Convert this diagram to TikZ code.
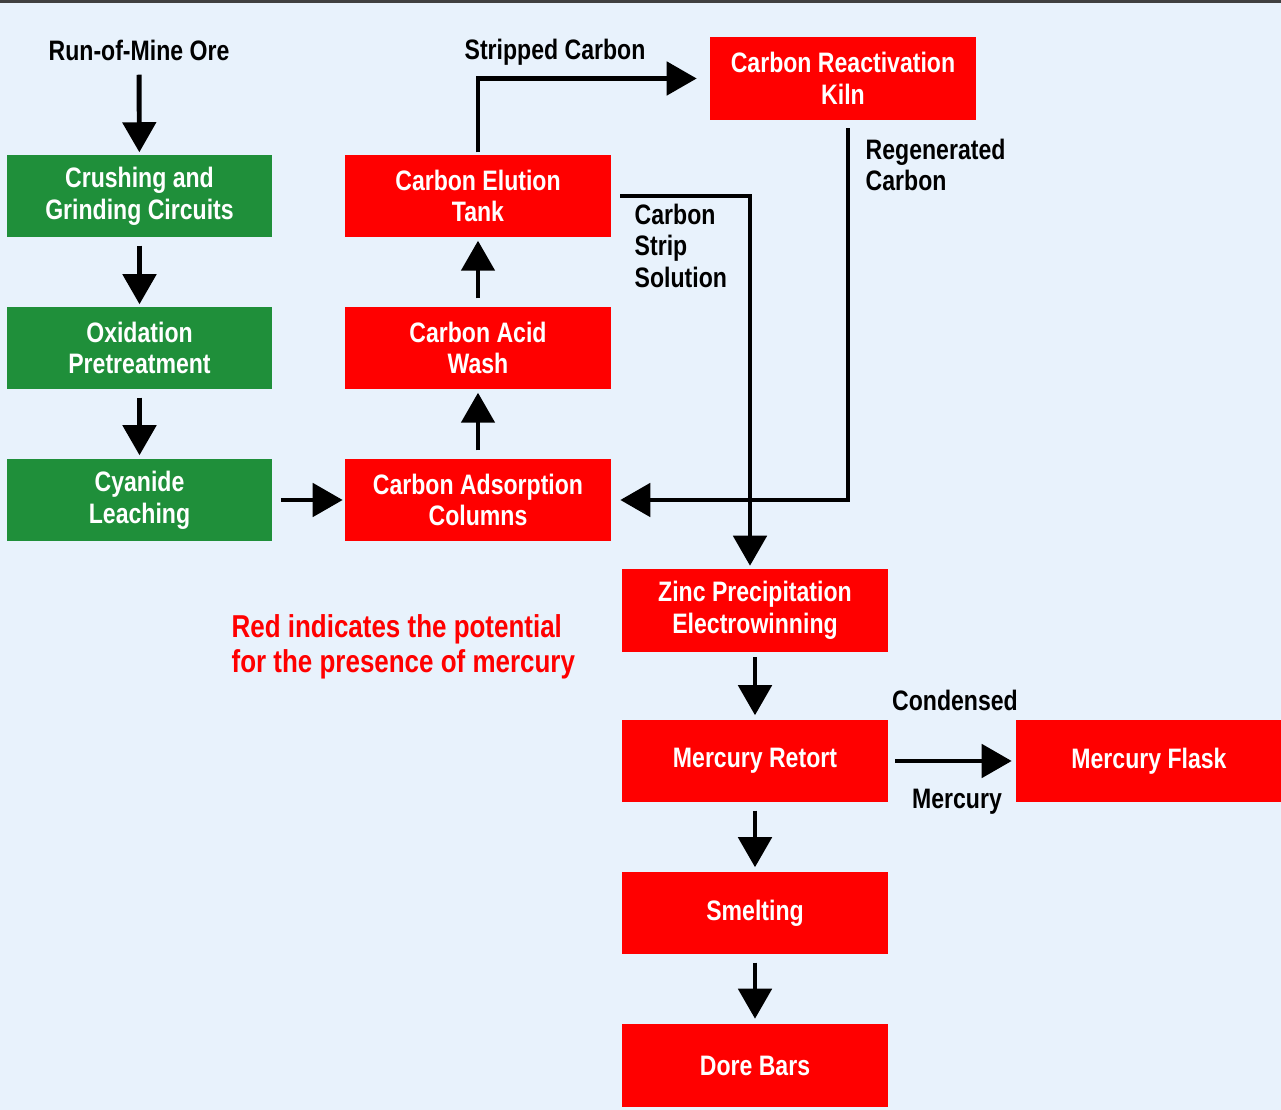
\documentclass[tikz,border=0pt]{standalone}
\usepackage{fontspec}
\setmainfont{Liberation Sans}[FakeStretch=0.82]
\usetikzlibrary{arrows.meta, positioning}
\definecolor{bgblue}{HTML}{E8F2FC}
\definecolor{boxgreen}{HTML}{1F8F3A}
\definecolor{boxred}{HTML}{FF0000}

\begin{document}
\begin{tikzpicture}[x=0.01cm, y=-0.01cm,
  font=\fontsize{8}{9}\selectfont\bfseries,
  greenbox/.style={fill=boxgreen, text=white, minimum width=2.65cm, minimum height=0.82cm, align=center, inner sep=0},
  redbox/.style={fill=boxred, text=white, minimum width=2.65cm, minimum height=0.82cm, align=center, inner sep=0},
  flow/.style={-{Triangle[length=0.3cm, width=0.33cm]}, line width=1.4pt},
  lbl/.style={align=left, inner sep=0}]
\useasboundingbox (0,0) rectangle (1281,1110);
\fill[bgblue] (0,0) rectangle (1281,1110);
\draw[black!75, line width=1.2pt] (0,1) -- (1281,1);
% nodes %
\node (rom) at (139,50) {Run-of-Mine Ore};
\node[greenbox] (crush) at (139.5,196) {Crushing and\\Grinding Circuits};
\node[greenbox] (oxid) at (139.5,348) {Oxidation\\Pretreatment};
\node[greenbox] (leach) at (139.5,500) {Cyanide\\Leaching};
\node[redbox] (elution) at (478,196) {Carbon Elution\\Tank};
\node[redbox] (acid) at (478,348) {Carbon Acid\\Wash};
\node[redbox] (adsorb) at (478,500) {Carbon Adsorption\\Columns};
\node[redbox] (kiln) at (843,78.5) {Carbon Reactivation\\Kiln};
\node[redbox] (zinc) at (755,610.5) {Zinc Precipitation\\Electrowinning};
\node[redbox] (retort) at (755,761) {Mercury Retort};
\node[redbox] (flask) at (1149,761) {Mercury Flask};
\node[redbox] (smelt) at (755,913) {Smelting};
\node[redbox] (dore) at (755,1065.5) {Dore Bars};
% labels %
\node (stripped) at (555,52) {Stripped Carbon};
\node[lbl, anchor=north west] (regen) at (865,138) {Regenerated\\Carbon};
\node[lbl, anchor=north west] (strip) at (634,203) {Carbon\\Strip\\Solution};
\node[lbl, anchor=north west, text=boxred, font=\fontsize{9}{10}\selectfont\bfseries] (legend) at (231,614) {Red indicates the potential\\for the presence of mercury};
\node (cond) at (955,700) {Condensed};
\node (merc) at (957,802) {Mercury};
% edges %
\draw[flow, shorten <=0.02cm, shorten >=0.02cm] (rom) -- (crush);
\draw[flow, shorten <=0.08cm, shorten >=0.02cm] (crush) -- (oxid);
\draw[flow, shorten <=0.08cm, shorten >=0.03cm] (oxid) -- (leach);
\draw[flow, shorten <=0.08cm, shorten >=0.02cm] (leach) -- (adsorb);
\draw[flow, shorten <=0.08cm, shorten >=0.03cm] (adsorb) -- (acid);
\draw[flow, shorten <=0.08cm, shorten >=0.03cm] (acid) -- (elution);
\draw[flow, shorten <=0.02cm, shorten >=0.13cm] (elution.north) |- (kiln.west);
\draw[flow, shorten <=0.09cm, shorten >=0.03cm] (elution.east) -| ([xshift=-0.05cm]zinc.north);
\draw[flow, shorten <=0.08cm, shorten >=0.09cm] ([xshift=0.05cm]kiln.south) |- (adsorb.east);
\draw[flow, shorten <=0.05cm, shorten >=0.04cm] (zinc) -- (retort);
\draw[flow, shorten <=0.07cm, shorten >=0.04cm] (retort) -- (flask);
\draw[flow, shorten <=0.08cm, shorten >=0.04cm] (retort) -- (smelt);
\draw[flow, shorten <=0.08cm, shorten >=0.05cm] (smelt) -- (dore);
\end{tikzpicture}
\end{document}
